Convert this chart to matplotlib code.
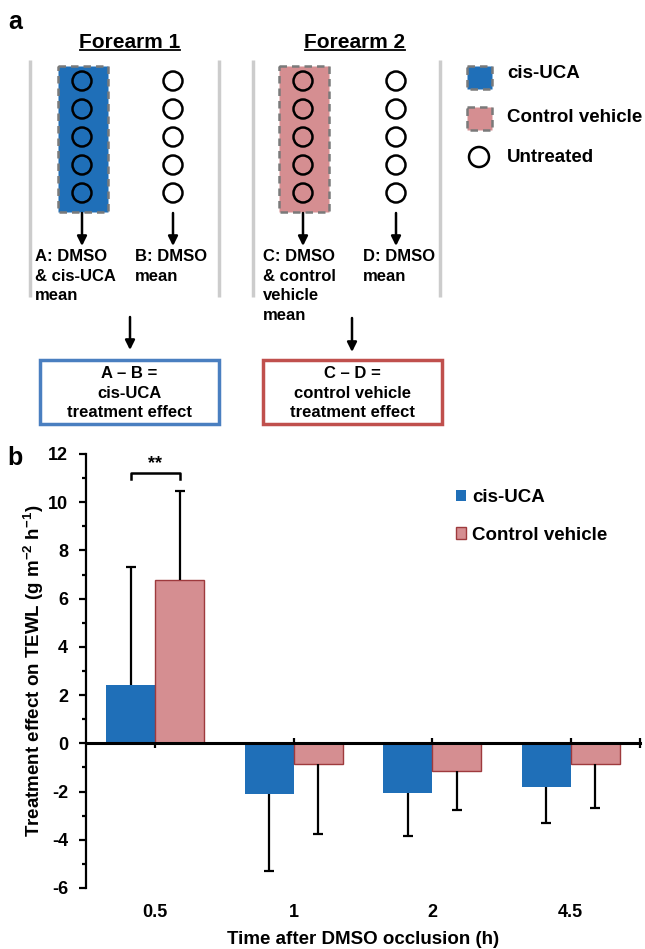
import matplotlib
matplotlib.use("Agg")
import matplotlib.pyplot as plt
from matplotlib.patches import Rectangle, Circle
from matplotlib.ticker import MultipleLocator, FixedLocator

plt.rcParams['font.family'] = ['Liberation Sans', 'DejaVu Sans']
plt.rcParams['font.weight'] = 'bold'
plt.rcParams['axes.unicode_minus'] = False
plt.rcParams['mathtext.fontset'] = 'custom'
plt.rcParams['mathtext.rm'] = 'Liberation Sans:bold'
plt.rcParams['mathtext.bf'] = 'Liberation Sans:bold'
plt.rcParams['mathtext.default'] = 'bf'

# panel b data
categories = ['0.5', '1', '2', '4.5']
cis_uca = [2.40, -2.09, -2.05, -1.81]
cis_uca_err = [4.90, 3.21, 1.78, 1.50]
control = [6.76, -0.84, -1.16, -0.84]
control_err = [3.71, 2.92, 1.62, 1.83]

BLUE = '#1f6fb8'
PINK = '#d58e91'
PINK_EDGE = '#9e3a3d'
W, H = 645, 949

fig = plt.figure(figsize=(W / 100, H / 100), dpi=100)

# ---------- panel a: schematic drawn in pixel coordinates ----------
pa = fig.add_axes([0, 0, 1, 1])
pa.set_xlim(0, W)
pa.set_ylim(H, 0)
pa.axis('off')

pa.text(15, 22, 'a', fontsize=18, fontweight='bold', va='center', ha='center')
pa.text(15, 458, 'b', fontsize=18, fontweight='bold', va='center', ha='center')

for cx, title in [(130, 'Forearm 1'), (355, 'Forearm 2')]:
    pa.text(cx, 42, title, fontsize=15, ha='center', va='center')
    pa.plot([cx - 50, cx + 50], [50, 50], color='black', lw=1.3)

for gx in [30, 219, 253, 440]:
    pa.plot([gx, gx], [60, 297], color='#cccccc', lw=2.5, solid_capstyle='butt')

for x0, col in [(58, BLUE), (279, PINK)]:
    pa.add_patch(Rectangle((x0, 66), 50, 146, facecolor=col, edgecolor='#7a7a7a',
                           lw=1.8, linestyle=(0, (3, 2))))

circle_y = [81, 109, 137, 165, 193]
for cx in [82, 173, 303, 396]:
    for cy in circle_y:
        pa.add_patch(Circle((cx, cy), 9.5, facecolor='none', edgecolor='black', lw=1.8))

arrow = dict(arrowstyle='-|>', lw=1.8, color='black', mutation_scale=14,
             shrinkA=0, shrinkB=0)
for ax_x, y0, y1 in [(82, 213, 246), (173, 213, 246), (303, 213, 246), (396, 213, 246),
                     (130, 317, 350), (352, 318, 352)]:
    pa.annotate('', xy=(ax_x, y1), xytext=(ax_x, y0), arrowprops=arrow)

lab_kw = dict(fontsize=12, ha='left', va='top', linespacing=1.38)
pa.text(35, 249, 'A: DMSO\n& cis-UCA\nmean', **lab_kw)
pa.text(135, 249, 'B: DMSO\nmean', **lab_kw)
pa.text(263, 249, 'C: DMSO\n& control\nvehicle\nmean', **lab_kw)
pa.text(363, 249, 'D: DMSO\nmean', **lab_kw)

for x0, x1, col, txt in [(40, 219, '#4a7fc0', 'A \u2013 B =\ncis-UCA\ntreatment effect'),
                         (263, 442, '#c0504d', 'C \u2013 D =\ncontrol vehicle\ntreatment effect')]:
    pa.add_patch(Rectangle((x0, 360), x1 - x0, 64, facecolor='white', edgecolor=col, lw=2.5))
    pa.text((x0 + x1) / 2, 393, txt, fontsize=12, ha='center', va='center', linespacing=1.38)

pa.add_patch(Rectangle((467, 66), 25, 23, facecolor=BLUE, edgecolor='#7a7a7a',
                       lw=1.8, linestyle=(0, (3, 2))))
pa.add_patch(Rectangle((467, 107), 25, 23, facecolor=PINK, edgecolor='#7a7a7a',
                       lw=1.8, linestyle=(0, (3, 2))))
pa.add_patch(Circle((479, 157), 10, facecolor='none', edgecolor='black', lw=1.8))
for ty, txt in [(73, 'cis-UCA'), (117, 'Control vehicle'), (157, 'Untreated')]:
    pa.text(507, ty, txt, fontsize=13.5, ha='left', va='center')

# ---------- panel b: bar chart ----------
ax = fig.add_axes([86 / W, 1 - 888 / H, 554 / W, 434 / H])
ax.patch.set_alpha(0)
x = list(range(len(categories)))
bw = 0.355
xb = [i - bw / 2 for i in x]
xc = [i + bw / 2 for i in x]

ax.bar(xb, cis_uca, bw, color=BLUE, label='cis-UCA', zorder=2)
ax.bar(xc, control, bw, color=PINK, edgecolor=PINK_EDGE, linewidth=1,
       label='Control vehicle', zorder=2)

# one-sided error bars, pointing away from zero
for xs, vals, errs in [(xb, cis_uca, cis_uca_err), (xc, control, control_err)]:
    tips = [v + e if v > 0 else v - e for v, e in zip(vals, errs)]
    ax.vlines(xs, vals, tips, color='black', lw=1.6, zorder=3)
    ax.plot(xs, tips, ls='none', marker='_', ms=7, mew=1.6, color='black', zorder=3)

ax.set_xlim(-0.5, 3.5)
ax.set_ylim(-6, 12)

ax.spines['top'].set_visible(False)
ax.spines['right'].set_visible(False)
ax.spines['left'].set_linewidth(1.6)
ax.spines['bottom'].set_position(('data', 0))
ax.spines['bottom'].set_linewidth(2.2)
ax.spines['bottom'].set_zorder(4)

ax.yaxis.set_major_locator(MultipleLocator(2))
ax.yaxis.set_minor_locator(MultipleLocator(1))
ax.tick_params(axis='y', which='major', direction='out', length=5, width=1.6,
               labelsize=13, pad=8)
ax.tick_params(axis='y', which='minor', direction='out', length=3, width=1.6)

ax.xaxis.set_major_locator(FixedLocator(x + [3.5]))
ax.tick_params(axis='x', which='major', direction='inout', length=7, width=1.6,
               labelbottom=False)
for i, c in zip(x, categories):
    ax.text(i, -7.0, c, fontsize=13, ha='center', va='center', clip_on=False)

ax.set_ylabel('Treatment effect on TEWL (g m$^{-2}$ h$^{-1}$)', fontsize=13.5,
              fontweight='bold')
ax.yaxis.set_label_coords(-0.072, 0.5)
ax.set_xlabel('Time after DMSO occlusion (h)', fontsize=13.5, fontweight='bold')
ax.xaxis.set_label_coords(0.5, -0.098)

# significance bracket
y_br, y_leg = 11.22, 10.98
ax.plot([xb[0], xb[0], xc[0], xc[0]], [y_leg, y_br, y_br, y_leg], color='black',
        lw=1.8, clip_on=False)
ax.text(0, 11.62, '**', fontsize=13, ha='center', va='center')

ax.legend(loc='upper left', bbox_to_anchor=(456 / W, 1 - 489 / H),
          bbox_transform=fig.transFigure, frameon=False, fontsize=13.5,
          handlelength=0.55, handleheight=0.55, handletextpad=0.3,
          labelspacing=1.1, borderpad=0, borderaxespad=0)

fig.savefig('out.png', dpi=100)
